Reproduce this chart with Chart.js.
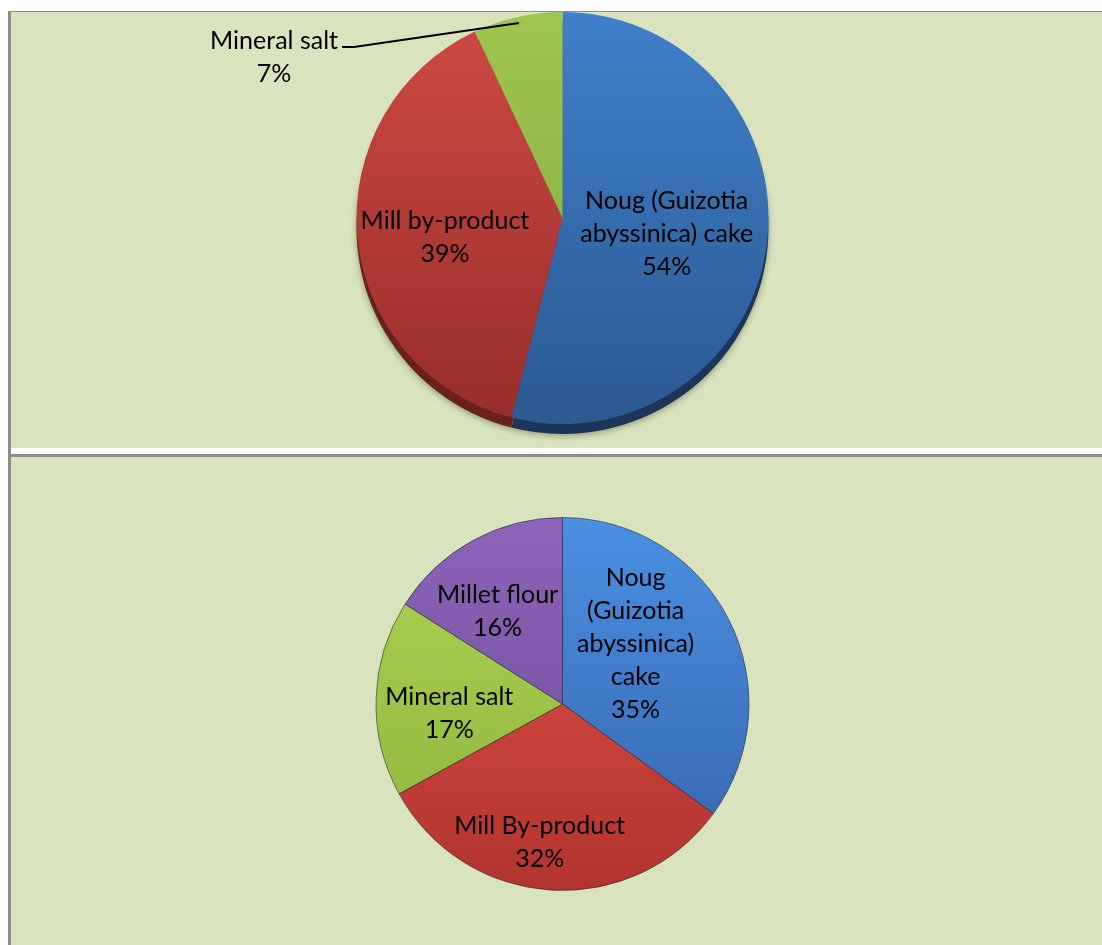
<!DOCTYPE html>
<html>
<head>
<meta charset="utf-8">
<script src="https://cdn.jsdelivr.net/npm/chart.js@4.4.1/dist/chart.umd.min.js"></script>
<style>
	body { margin: 0; width: 1102px; height: 945px; background: #ffffff; position: relative; overflow: hidden; }
	.rule { position: absolute; background: #8e8e8e; }
	.panel { position: absolute; left: 11px; width: 1091px; background: #d9e4bf; }
	canvas { position: absolute; left: 0; top: 0; }
</style>
</head>
<body>
<div class="rule" style="left:8px; top:11px; width:3px; height:934px;"></div>
<div class="rule" style="left:8px; top:11px; width:1094px; height:1px;"></div>
<div class="panel" style="top:12px; height:436px;"><canvas id="diet-a" width="1091" height="436"></canvas></div>
<div class="rule" style="left:8px; top:454px; width:1094px; height:3px;"></div>
<div class="panel" style="top:457px; height:488px;"><canvas id="diet-b" width="1091" height="488"></canvas></div>
<script>
/* Ration A: ingredient shares (%). */
const dietALabels = [["Noug (Guizotia", "abyssinica) cake"], ["Mill by-product"], ["Mineral salt"]];
const dietAShares = [54, 39, 7];

/* Ration B: ingredient shares (%). */
const dietBLabels = [["Noug", "(Guizotia", "abyssinica)", "cake"], ["Mill By-product"], ["Mineral salt"], ["Millet flour"]];
const dietBShares = [35, 32, 17, 16];

const FONT = "25px Lato, 'Open Sans', sans-serif";
const LINE = 33;

/* Vertical gradient per slice, lighter at the top of the pie and darker at the bottom. */
function shade(stops) {
	return (ctx) => {
		const [top, bottom] = stops[ctx.dataIndex];
		const area = ctx.chart.chartArea;
		if (!area) return top;
		const g = ctx.chart.ctx.createLinearGradient(0, area.top, 0, area.bottom);
		g.addColorStop(0, top);
		g.addColorStop(1, bottom);
		return g;
	};
}

/* Dark rim under the pie, so it looks like a thick disc. */
const rimPlugin = {
	id: "rim",
	beforeDatasetsDraw(chart, args, opts) {
		if (!opts.colors) return;
		const ctx = chart.ctx;
		ctx.save();
		chart.getDatasetMeta(0).data.forEach((arc, i) => {
			const p = arc.getProps(["x", "y", "startAngle", "endAngle", "outerRadius"], true);
			ctx.shadowColor = "rgba(60, 70, 30, 0.45)";
			ctx.shadowBlur = 6;
			ctx.shadowOffsetY = 2;
			ctx.beginPath();
			ctx.moveTo(p.x, p.y + opts.depth);
			ctx.arc(p.x, p.y + opts.depth, p.outerRadius, p.startAngle, p.endAngle);
			ctx.closePath();
			ctx.fillStyle = opts.colors[i];
			ctx.fill();
		});
		ctx.restore();
	},
};

/* Category name and share written inside (or beside) each slice. */
const sliceLabelPlugin = {
	id: "sliceLabels",
	afterDatasetsDraw(chart, args, opts) {
		const ctx = chart.ctx;
		const labels = chart.data.labels;
		const values = chart.data.datasets[0].data;
		ctx.save();
		ctx.font = FONT;
		ctx.fillStyle = "#000000";
		ctx.textAlign = "center";
		ctx.textBaseline = "middle";
		chart.getDatasetMeta(0).data.forEach((arc, i) => {
			const c = arc.getCenterPoint(true);
			const off = opts.offsets[i];
			const lines = labels[i].concat([values[i] + "%"]);
			const x = c.x + off[0];
			const y0 = c.y + off[1] - (lines.length - 1) * LINE / 2;
			lines.forEach((t, k) => ctx.fillText(t, x, y0 + k * LINE));

			if (opts.leader === i) {
				const p = arc.getProps(["x", "y", "startAngle", "endAngle", "outerRadius"], true);
				const mid = (p.startAngle + p.endAngle) / 2;
				const w = ctx.measureText(lines[0]).width;
				const sx = x + w / 2 + 4;
				const sy = y0 + 6;
				ctx.beginPath();
				ctx.moveTo(sx, sy);
				ctx.lineTo(sx + 12, sy);
				ctx.lineTo(p.x + Math.cos(mid) * p.outerRadius * 0.97, p.y + Math.sin(mid) * p.outerRadius * 0.97);
				ctx.strokeStyle = "#000000";
				ctx.lineWidth = 2;
				ctx.stroke();
			}
		});
		ctx.restore();
	},
};

const dietAChart = new Chart(
	document.getElementById("diet-a"),
	{
		type: "pie",
		data:
		{
			labels: dietALabels,
			datasets:
			[
				{
					data: dietAShares,
					backgroundColor: shade([
						["#4080cb", "#2b5990"],
						["#cf4a44", "#962d2a"],
						["#9fc64e", "#86a642"],
					]),
					borderWidth: 0,
				},
			],
		},
		options:
		{
			responsive: false,
			animation: false,
			layout: { padding: { left: 12, top: 0, right: 0, bottom: 24 } },
			plugins:
			{
				legend: { display: false },
				tooltip: { enabled: false },
				rim: { depth: 10, colors: ["#1d3558", "#6a201d", "#5a7629"] },
				sliceLabels: { offsets: [[2, 3], [-15, 10], [-266, -60]], leader: 2 },
			},
		},
		plugins: [rimPlugin, sliceLabelPlugin],
	}
);

const dietBChart = new Chart(
	document.getElementById("diet-b"),
	{
		type: "pie",
		data:
		{
			labels: dietBLabels,
			datasets:
			[
				{
					data: dietBShares,
					backgroundColor: shade([
						["#4b90e2", "#3462aa"],
						["#e2524b", "#b2342f"],
						["#aed451", "#8db23d"],
						["#8c64b8", "#6c4a95"],
					]),
					borderColor: "rgba(30, 30, 40, 0.55)",
					borderWidth: 1,
				},
			],
		},
		options:
		{
			responsive: false,
			animation: false,
			layout: { padding: { left: 12, top: 60, right: 0, bottom: 54 } },
			plugins:
			{
				legend: { display: false },
				tooltip: { enabled: false },
				sliceLabels: { offsets: [[-10, -18], [-17, 45], [-20, 12], [-20, -11]], leader: -1 },
			},
		},
		plugins: [rimPlugin, sliceLabelPlugin],
	}
);
</script>
</body>
</html>
